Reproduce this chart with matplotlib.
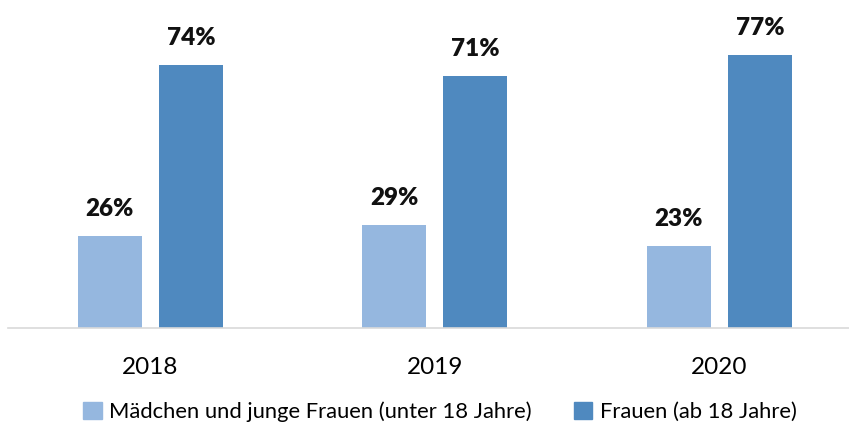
import numpy as np
import matplotlib.pyplot as plt
from matplotlib.patches import Patch

plt.rcParams['font.family'] = ['Lato', 'DejaVu Sans']

years = ['2018', '2019', '2020']
under_18 = [26, 29, 23]
adults = [74, 71, 77]
series_names = ['Mädchen und junge Frauen (unter 18 Jahre)', 'Frauen (ab 18 Jahre)']

c_light = '#95B7DF'
c_dark = '#4F89BF'

W, H = 849, 433
fig = plt.figure(figsize=(W / 100, H / 100), dpi=100)
# axes spans from the baseline up to the top of the image
ax = fig.add_axes([8 / W, (H - 328) / H, (W - 8) / W, 328 / H])

x = np.arange(len(years))
bw = 0.225
off = 0.143
b1 = ax.bar(x - off, under_18, bw, color=c_light)
b2 = ax.bar(x + off, adults, bw, color=c_dark)

for bars, vals in ((b1, under_18), (b2, adults)):
    for r, v in zip(bars, vals):
        ax.text(r.get_x() + r.get_width() / 2, v + 4.5, f'{v}%', ha='center', va='bottom',
                fontsize=17.5, fontweight='heavy', color='#111111')

ax.set_xlim(-0.5, (W - 8) / 284.5 - 0.5)
ax.set_ylim(0, 328 / 3.55)
ax.set_xticks(x)
ax.set_xticklabels(years, fontsize=17.5)
ax.tick_params(axis='x', length=0, pad=21)
ax.set_yticks([])
for s in ['top', 'left', 'right']:
    ax.spines[s].set_visible(False)
ax.spines['bottom'].set_color('#D9D9D9')
ax.spines['bottom'].set_linewidth(1.2)

handles = [Patch(color=c_light), Patch(color=c_dark)]
fig.legend(handles, series_names, loc='center', bbox_to_anchor=(440 / W, 1 - 412 / H),
           ncol=2, frameon=False, fontsize=15.8, handlelength=0.85, handleheight=0.85,
           handletextpad=0.35, columnspacing=1.9)

fig.savefig('out.png', dpi=100)
